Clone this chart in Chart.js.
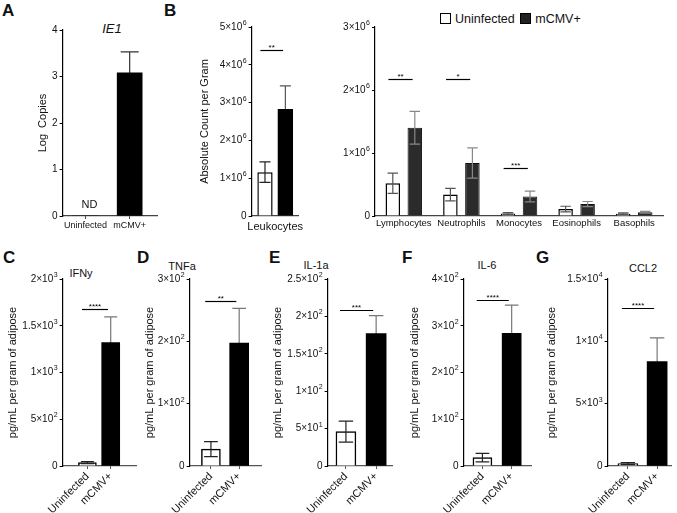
<!DOCTYPE html>
<html lang="en">
<head>
<meta charset="UTF-8">
<title>mCMV adipose infection panels</title>
<script src="https://cdn.jsdelivr.net/npm/chart.js"></script>
<style>
    body { margin: 0; background: #fff; font-family: "Liberation Sans", Arial, sans-serif; color: #111; }
    #fig { position: relative; width: 677px; height: 513px; overflow: hidden; }
    #fig canvas { position: absolute; }
    .letter { position: absolute; font-weight: bold; font-size: 17px; line-height: 1; }
    .ttl { position: absolute; font-size: 11px; line-height: 1; white-space: nowrap; transform: translate(-50%, -50%); }
    #legend { position: absolute; left: 440px; top: 12px; font-size: 12.5px; line-height: 14px; white-space: nowrap; }
    #legend .sw { display: inline-block; width: 9px; height: 9px; border: 1.2px solid #000; vertical-align: -1px; margin-right: 4px; }
</style>
</head>
<body>
<div id="fig">
    <div class="letter" style="left:2px; top:2px">A</div>
    <div class="letter" style="left:164px; top:2px">B</div>
    <div class="letter" style="left:3px; top:249px">C</div>
    <div class="letter" style="left:137px; top:249px">D</div>
    <div class="letter" style="left:269px; top:249px">E</div>
    <div class="letter" style="left:402px; top:249px">F</div>
    <div class="letter" style="left:536px; top:249px">G</div>

    <div class="ttl" style="left:112px; top:28px; font-style:italic; font-size:13px">IE1</div>
    <div class="ttl" style="left:81px; top:273px">IFNy</div>
    <div class="ttl" style="left:182px; top:266px">TNFa</div>
    <div class="ttl" style="left:316px; top:265px">IL-1a</div>
    <div class="ttl" style="left:487px; top:265px">IL-6</div>
    <div class="ttl" style="left:643px; top:268px">CCL2</div>

    <div id="legend"><span class="sw" style="background:#fff"></span>Uninfected <span class="sw" style="background:#222; margin-left:2px"></span>mCMV+</div>
</div>

<script>
    // groups compared in every panel
    const groups = ['Uninfected', 'mCMV+'];

    // A - IE1 log copies (uninfected not detected)
    const ie1Mean = [0, 3.08];
    const ie1Sem = [0, 0.45];
    const ie1Ticks = [0, 1, 2, 3, 4];
    const ie1TickLabels = ['0', '1', '2', '3', '4'];

    // B - total leukocytes per gram
    const leukoCat = ['Leukocytes'];
    const leukoUninf = [1.16e6];
    const leukoUninfSem = [0.27e6];
    const leukoCmv = [2.83e6];
    const leukoCmvSem = [0.61e6];
    const leukoTicks = [0, 1e6, 2e6, 3e6, 4e6, 5e6];
    const leukoTickLabels = ['0', '1×10⁶', '2×10⁶', '3×10⁶', '4×10⁶', '5×10⁶'];
    const leukoSig = [4.4e6, '**'];

    // B - leukocyte subsets
    const cellTypes = ['Lymphocytes', 'Neutrophils', 'Monocytes', 'Eosinophils', 'Basophils'];
    const cellsUninf = [0.52e6, 0.34e6, 0.04e6, 0.11e6, 0.037e6];
    const cellsUninfSem = [0.16e6, 0.10e6, 0.015e6, 0.045e6, 0.012e6];
    const cellsCmv = [1.40e6, 0.84e6, 0.31e6, 0.19e6, 0.06e6];
    const cellsCmvSem = [0.26e6, 0.24e6, 0.085e6, 0.04e6, 0.012e6];
    const cellTicks = [0, 1e6, 2e6, 3e6];
    const cellTickLabels = ['0', '1×10⁶', '2×10⁶', '3×10⁶'];
    const cellSigIndex = [0, 1, 2];
    const cellSigY = [2.17e6, 2.17e6, 0.76e6];
    const cellSigText = ['**', '*', '***'];

    // C-G cytokines, pg/mL per gram of adipose
    const ifnyMean = [36, 1320];
    const ifnySem = [11, 275];
    const ifnyTicks = [0, 500, 1000, 1500, 2000];
    const ifnyTickLabels = ['0', '5×10²', '1×10³', '1.5×10³', '2×10³'];
    const ifnySig = [1677, '****'];

    const tnfaMean = [27, 197];
    const tnfaSem = [12, 56];
    const tnfaTicks = [0, 100, 200, 300];
    const tnfaTickLabels = ['0', '1×10²', '2×10²', '3×10²'];
    const tnfaSig = [265, '**'];

    const il1aMean = [46, 177];
    const il1aSem = [14, 24];
    const il1aTicks = [0, 50, 100, 150, 200, 250];
    const il1aTickLabels = ['0', '5×10¹', '1×10²', '1.5×10²', '2×10²', '2.5×10²'];
    const il1aSig = [209, '***'];

    const il6Mean = [18, 284];
    const il6Sem = [9, 60];
    const il6Ticks = [0, 100, 200, 300, 400];
    const il6TickLabels = ['0', '1×10²', '2×10²', '3×10²', '4×10²'];
    const il6Sig = [356, '****'];

    const ccl2Mean = [190, 8380];
    const ccl2Sem = [80, 1890];
    const ccl2Ticks = [0, 5000, 10000, 15000];
    const ccl2TickLabels = ['0', '5×10³', '1×10⁴', '1.5×10⁴'];
    const ccl2Sig = [12650, '****'];

    const FONT = '"Liberation Sans", Arial, sans-serif';
    const SUP = '⁰¹²³⁴⁵⁶⁷⁸⁹';
    Chart.defaults.font.family = FONT;
    Chart.defaults.color = '#111';
    Chart.defaults.animation = false;

    function pick(v, i) { return Array.isArray(v) ? v[i] : v; }

    // error bars (behind or in front of the bars)
    function drawErrors(chart, front) {
        const ctx = chart.ctx, ys = chart.scales.y;
        chart.data.datasets.forEach((ds, di) => {
            if (!ds.sem) return;
            chart.getDatasetMeta(di).data.forEach((bar, i) => {
                const e = ds.sem[i];
                if (!e || pick(ds.errFront, i) !== front) return;
                const v = ds.mean[i];
                const top = ys.getPixelForValue(v + e);
                const bot = ys.getPixelForValue(Math.max(v - e, 0));
                const half = bar.width * 0.36;
                ctx.save();
                ctx.strokeStyle = pick(ds.errColor, i);
                ctx.lineWidth = 1.2;
                ctx.beginPath();
                ctx.moveTo(bar.x, top); ctx.lineTo(bar.x, bot);
                ctx.moveTo(bar.x - half, top); ctx.lineTo(bar.x + half, top);
                ctx.moveTo(bar.x - half, bot); ctx.lineTo(bar.x + half, bot);
                ctx.stroke();
                ctx.restore();
            });
        });
    }

    // y tick labels with a raised, smaller exponent
    function drawTickLabels(chart, opts) {
        if (!opts.yLabels) return;
        const ctx = chart.ctx, ys = chart.scales.y, right = chart.chartArea.left - 5;
        ctx.save();
        ctx.fillStyle = '#111';
        ctx.textBaseline = 'middle';
        ctx.textAlign = 'left';
        opts.yTicks.forEach((v, i) => {
            const m = opts.yLabels[i].match(/^(.*?)([⁰¹²³⁴⁵⁶⁷⁸⁹]*)$/);
            const base = m[1];
            const exp = Array.from(m[2]).map(c => SUP.indexOf(c)).join('');
            ctx.font = '7px ' + FONT;
            const ew = exp ? ctx.measureText(exp).width + 0.5 : 0;
            ctx.font = '10px ' + FONT;
            const bw = ctx.measureText(base).width;
            const y = ys.getPixelForValue(v);
            ctx.fillText(base, right - ew - bw, y);
            if (exp) {
                ctx.font = '7px ' + FONT;
                ctx.fillText(exp, right - ew + 0.5, y - 4);
            }
        });
        ctx.restore();
    }

    const barExtras = {
        id: 'barExtras',
        beforeDatasetsDraw(chart) { drawErrors(chart, false); },
        afterDatasetsDraw(chart, args, opts) {
            drawErrors(chart, true);
            const ctx = chart.ctx, ys = chart.scales.y, xs = chart.scales.x;
            // significance lines
            (opts.sig || []).forEach(s => {
                const a = chart.getDatasetMeta(s.a[0]).data[s.a[1]];
                const b = chart.getDatasetMeta(s.b[0]).data[s.b[1]];
                const x1 = a.x - a.width * 0.3, x2 = b.x - b.width * 0.15;
                const y = Math.round(ys.getPixelForValue(s.y)) + 0.5;
                ctx.save();
                ctx.strokeStyle = '#000';
                ctx.lineWidth = 1.2;
                ctx.beginPath(); ctx.moveTo(x1, y); ctx.lineTo(x2, y); ctx.stroke();
                ctx.fillStyle = '#000';
                ctx.font = '8px ' + FONT;
                ctx.textAlign = 'center';
                ctx.fillText(s.text, (x1 + x2) / 2, y - 1);
                ctx.restore();
            });
            (opts.notes || []).forEach(n => {
                ctx.save();
                ctx.fillStyle = '#111';
                ctx.font = '11px ' + FONT;
                ctx.textAlign = 'center';
                ctx.fillText(n.text, xs.getPixelForValue(n.x) + 4, ys.getPixelForValue(0) - 8);
                ctx.restore();
            });
        },
        afterDraw(chart, args, opts) { drawTickLabels(chart, opts); }
    };

    function addCanvas(left, top, w, h) {
        const c = document.createElement('canvas');
        c.width = w; c.height = h;
        c.style.left = left + 'px';
        c.style.top = top + 'px';
        document.getElementById('fig').appendChild(c);
        return c;
    }

    function yScale(max, vals, title, width) {
        return {
            min: 0, max: max,
            afterBuildTicks: s => { s.ticks = vals.map(v => ({ value: v })); },
            afterFit: s => { s.width = width; },
            ticks: { display: false },
            grid: { drawOnChartArea: false, drawTicks: true, tickLength: 3, color: '#000' },
            border: { color: '#000', width: 1.2 },
            title: { display: !!title, text: title || '', font: { size: 11 }, padding: 0, color: '#111' }
        };
    }

    function groupXScale(min, max, height, rot, size, color) {
        return {
            type: 'linear', bounds: 'data', min: min, max: max, offset: false,
            afterBuildTicks: s => { s.ticks = groups.map((g, i) => ({ value: i + 1 })); },
            afterFit: s => { s.height = height; },
            ticks: { callback: v => groups[v - 1], autoSkip: false, minRotation: rot, maxRotation: rot, font: { size: size }, padding: 1, color: '#111' },
            grid: { offset: false, drawOnChartArea: false, drawTicks: true, tickLength: 3, color: color },
            border: { color: color, width: 1.2 }
        };
    }

    // ---- A ----
    (function () {
        const g = { titleX: 43, left: 63, right: 158, top: 30, bottom: 216, c1: 86, c2: 130.5, bar: 25 };
        const cl = g.titleX - 6.6, padTop = 10, xH = 18, padR = 8;
        const cv = addCanvas(cl, g.top - padTop, g.right + padR - cl, g.bottom + xH - g.top + padTop);
        const s = g.c2 - g.c1;
        new Chart(cv, {
            type: 'bar',
            data: { datasets: [{
                data: ie1Mean.map((v, i) => ({ x: i + 1, y: v })),
                mean: ie1Mean, sem: ie1Sem, errFront: false, errColor: '#333',
                backgroundColor: '#000', borderWidth: 0, barThickness: g.bar
            }] },
            options: {
                responsive: false,
                layout: { padding: { top: padTop, right: padR, left: 0, bottom: 0 } },
                scales: {
                    x: groupXScale(1 - (g.c1 - g.left) / s, 2 + (g.right - g.c2) / s, xH, 0, 9, '#444'),
                    y: yScale(4, ie1Ticks, 'Log  Copies', g.left - cl)
                },
                plugins: { legend: { display: false }, tooltip: { enabled: false },
                    barExtras: { notes: [{ x: 1, text: 'ND' }], yTicks: ie1Ticks, yLabels: ie1TickLabels } }
            },
            plugins: [barExtras]
        });
    })();

    // ---- B leukocytes ----
    (function () {
        const g = { titleX: 205, left: 252, right: 304, top: 27, bottom: 216 };
        const cl = g.titleX - 6.6, padTop = 10, xH = 22, padR = 8;
        const cv = addCanvas(cl, g.top - padTop, g.right + padR - cl, g.bottom + xH - g.top + padTop);
        const x = { type: 'category', offset: true, afterFit: s => { s.height = xH; },
            ticks: { font: { size: 11 }, maxRotation: 0, autoSkip: false, padding: 4, color: '#111' },
            grid: { drawOnChartArea: false, drawTicks: false, color: '#444' },
            border: { color: '#444', width: 1.2 } };
        new Chart(cv, {
            type: 'bar',
            data: { labels: leukoCat, datasets: [
                { data: leukoUninf, mean: leukoUninf, sem: leukoUninfSem, errFront: true, errColor: '#222',
                  backgroundColor: '#fff', borderColor: '#000', borderWidth: 1.5, categoryPercentage: 0.865, barPercentage: 0.75 },
                { data: leukoCmv, mean: leukoCmv, sem: leukoCmvSem, errFront: false, errColor: '#555',
                  backgroundColor: '#000', borderWidth: 0, categoryPercentage: 0.865, barPercentage: 0.75 }
            ] },
            options: {
                responsive: false,
                layout: { padding: { top: padTop, right: padR, left: 0, bottom: 0 } },
                scales: { x: x, y: yScale(5e6, leukoTicks, 'Absolute Count per Gram', g.left - cl) },
                plugins: { legend: { display: false }, tooltip: { enabled: false },
                    barExtras: { sig: [{ a: [0, 0], b: [1, 0], y: leukoSig[0], text: leukoSig[1] }],
                                 yTicks: leukoTicks, yLabels: leukoTickLabels } }
            },
            plugins: [barExtras]
        });
    })();

    // ---- B subsets ----
    (function () {
        const g = { left: 375, right: 663, top: 27, bottom: 216 };
        const cl = 330, padTop = 10, xH = 20, padR = 8;
        const cv = addCanvas(cl, g.top - padTop, g.right + padR - cl, g.bottom + xH - g.top + padTop);
        const x = { type: 'category', offset: true, afterFit: s => { s.height = xH; },
            ticks: { font: { size: 9.5 }, maxRotation: 0, autoSkip: false, padding: 2, color: '#111' },
            grid: { drawOnChartArea: false, drawTicks: false, color: '#444' },
            border: { color: '#444', width: 1.2 } };
        new Chart(cv, {
            type: 'bar',
            data: { labels: cellTypes, datasets: [
                { data: cellsUninf, mean: cellsUninf, sem: cellsUninfSem, errFront: true, errColor: '#555',
                  backgroundColor: '#fff', borderColor: '#000', borderWidth: 1.5, categoryPercentage: 0.764, barPercentage: 0.66 },
                { data: cellsCmv, mean: cellsCmv, sem: cellsCmvSem, errFront: true, errColor: '#888',
                  backgroundColor: '#2b2b2b', borderColor: '#111', borderWidth: 1, categoryPercentage: 0.764, barPercentage: 0.66 }
            ] },
            options: {
                responsive: false,
                layout: { padding: { top: padTop, right: padR, left: 0, bottom: 0 } },
                scales: { x: x, y: yScale(3e6, cellTicks, null, g.left - cl) },
                plugins: { legend: { display: false }, tooltip: { enabled: false },
                    barExtras: { sig: cellSigIndex.map((ci, k) => ({ a: [0, ci], b: [1, ci], y: cellSigY[k], text: cellSigText[k] })),
                                 yTicks: cellTicks, yLabels: cellTickLabels } }
            },
            plugins: [barExtras]
        });
    })();

    // ---- C-G cytokines ----
    function cytokinePanel(g, mean, sem, ticks, tickLabels, sig) {
        const top = 279, bottom = 466, padTop = 10, xH = 47, padR = 8;
        const cl = g.titleX - 6.6;
        const cv = addCanvas(cl, top - padTop, g.right + padR - cl, bottom + xH - top + padTop);
        const s = g.c2 - g.c1;
        new Chart(cv, {
            type: 'bar',
            data: { datasets: [{
                data: mean.map((v, i) => ({ x: i + 1, y: v })),
                mean: mean, sem: sem, errFront: [true, false], errColor: ['#222', '#777'],
                backgroundColor: ['#fff', '#000'], borderColor: '#000', borderWidth: [1.5, 0], barThickness: g.bar
            }] },
            options: {
                responsive: false,
                layout: { padding: { top: padTop, right: padR, left: 0, bottom: 0 } },
                scales: {
                    x: groupXScale(1 - (g.c1 - g.left) / s, 2 + (g.right - g.c2) / s, xH, 45, 11, '#555'),
                    y: yScale(ticks[ticks.length - 1], ticks, 'pg/mL per gram of adipose', g.left - cl)
                },
                plugins: { legend: { display: false }, tooltip: { enabled: false },
                    barExtras: { sig: [{ a: [0, 0], b: [0, 1], y: sig[0], text: sig[1] }],
                                 yTicks: ticks, yLabels: tickLabels } }
            },
            plugins: [barExtras]
        });
    }

    cytokinePanel({ titleX: 13, left: 63, right: 137, c1: 88, c2: 111.5, bar: 18 }, ifnyMean, ifnySem, ifnyTicks, ifnyTickLabels, ifnySig);
    cytokinePanel({ titleX: 150, left: 190, right: 262, c1: 211.5, c2: 240, bar: 19 }, tnfaMean, tnfaSem, tnfaTicks, tnfaTickLabels, tnfaSig);
    cytokinePanel({ titleX: 278, left: 328, right: 393, c1: 346.5, c2: 377, bar: 20 }, il1aMean, il1aSem, il1aTicks, il1aTickLabels, il1aSig);
    cytokinePanel({ titleX: 415, left: 464, right: 532, c1: 483, c2: 512.5, bar: 19 }, il6Mean, il6Sem, il6Ticks, il6TickLabels, il6Sig);
    cytokinePanel({ titleX: 552, left: 608, right: 672, c1: 628.5, c2: 658, bar: 20 }, ccl2Mean, ccl2Sem, ccl2Ticks, ccl2TickLabels, ccl2Sig);
</script>
</body>
</html>
